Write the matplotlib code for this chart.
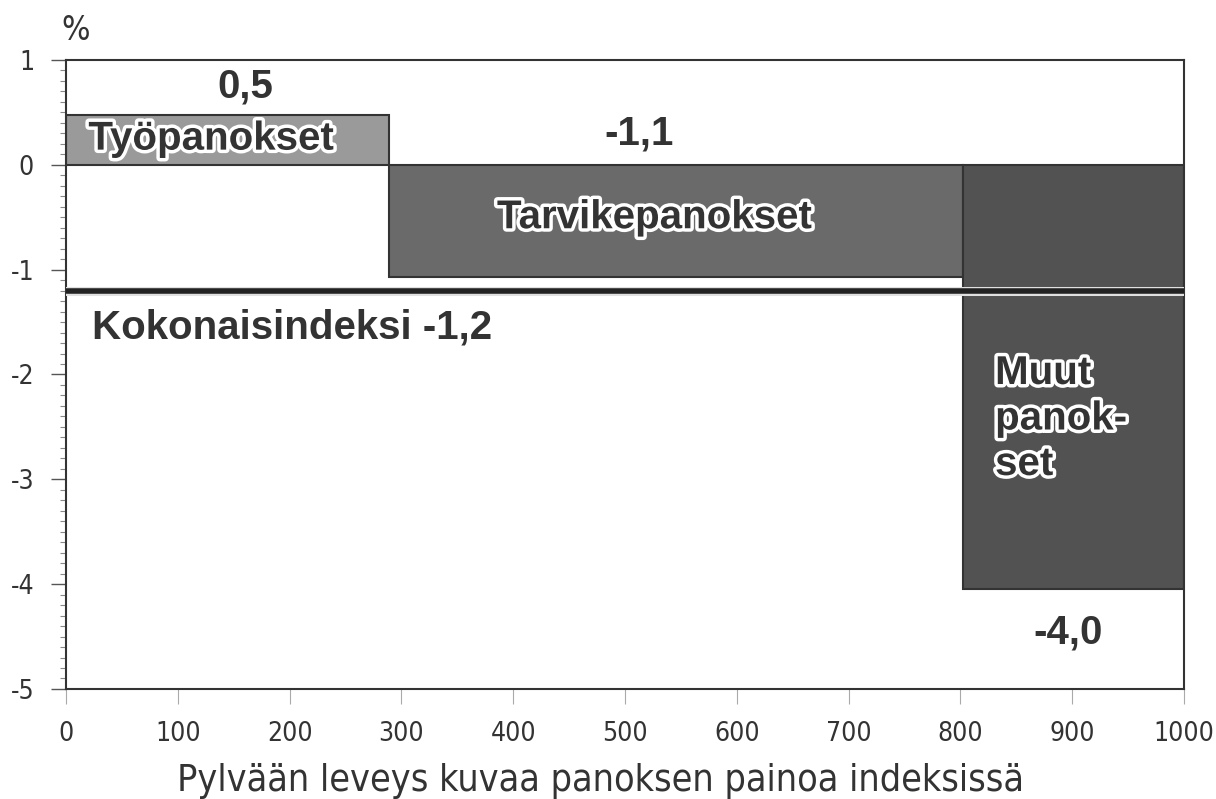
import matplotlib
matplotlib.use('Agg')
import matplotlib.pyplot as plt
import matplotlib.patheffects as pe
from matplotlib import font_manager as fm
from matplotlib.ticker import MultipleLocator

# panos groups: left edge, weight (bar width) and change in percent
groups = ['Työpanokset', 'Tarvikepanokset', 'Muut\npanok-\nset']
lefts = [0, 289, 802]
widths = [289, 513, 198]
changes = [0.48, -1.07, -4.05]
change_labels = ['0,5', '-1,1', '-4,0']
total_index = -1.2
total_label = 'Kokonaisindeksi -1,2'
bar_colors = ['#9a9a9a', '#6a6a6a', '#525252']

plt.rcParams['axes.unicode_minus'] = False

# look for a narrow sans face, otherwise fall back to Roboto light
narrow_file = None
for f in fm.fontManager.ttflist:
    base = f.fname.split('/')[-1]
    if base in ('LiberationSansNarrow-Regular.ttf', 'DejaVuSansCondensed.ttf'):
        if narrow_file is None or 'Liberation' in base:
            narrow_file = f.fname
if narrow_file:
    def nfont(size):
        return fm.FontProperties(fname=narrow_file, size=size)
else:
    def nfont(size):
        return fm.FontProperties(family=['Roboto', 'DejaVu Sans'], weight='light', size=size)

bold = ['Liberation Sans', 'DejaVu Sans']
ink = '#333333'
fs = 29

fig = plt.figure(figsize=(12.16, 7.99), dpi=100)
ax = fig.add_axes([0.0543, 0.1377, 0.9194, 0.7872])

ax.bar(lefts, changes, width=widths, align='edge', color=bar_colors,
       edgecolor='#333333', linewidth=1.5, zorder=2)

glow = [pe.withStroke(linewidth=5, foreground='white')]
ax.axhline(total_index, color='#222222', linewidth=4, zorder=3,
           path_effects=[pe.Stroke(linewidth=6.5, foreground='#e0e0e0'), pe.Normal()])

# value labels above / below bars
ax.text(160, 0.75, change_labels[0], ha='center', va='center',
        fontsize=fs, fontweight='bold', family=bold, color=ink)
ax.text(513, 0.3, change_labels[1], ha='center', va='center',
        fontsize=fs, fontweight='bold', family=bold, color=ink)
ax.text(896, -4.46, change_labels[2], ha='center', va='center',
        fontsize=fs, fontweight='bold', family=bold, color=ink)

# names inside bars
ax.text(20, 0.25, groups[0], ha='left', va='center', fontsize=fs, fontweight='bold',
        family=bold, color=ink, path_effects=glow)
ax.text(526, -0.5, groups[1], ha='center', va='center', fontsize=fs, fontweight='bold',
        family=bold, color=ink, path_effects=glow)
ax.text(831, -2.42, groups[2], ha='left', va='center', fontsize=fs, fontweight='bold',
        family=bold, color=ink, path_effects=glow, linespacing=1.25)

ax.text(23, -1.55, total_label, ha='left', va='center', fontsize=fs, fontweight='bold',
        family=bold, color=ink)

ax.set_xlim(0, 1000)
ax.set_ylim(-5, 1)
ax.xaxis.set_major_locator(MultipleLocator(100))
ax.yaxis.set_major_locator(MultipleLocator(1))
ax.yaxis.set_minor_locator(MultipleLocator(0.1))
ax.tick_params(axis='y', which='major', length=11, width=1, color='#555555', pad=12)
ax.tick_params(axis='y', which='minor', length=4, width=0.8, color='#888888')
ax.tick_params(axis='x', which='major', length=11, width=0.8, color='#aaaaaa', pad=12)
for lab in ax.get_xticklabels() + ax.get_yticklabels():
    lab.set_fontproperties(nfont(19))
    lab.set_color(ink)
for s in ax.spines.values():
    s.set_color('#333333')
    s.set_linewidth(1.5)

ax.set_xlabel('Pylvään leveys kuvaa panoksen painoa indeksissä', fontproperties=nfont(27),
              color=ink)
ax.xaxis.set_label_coords(0.478, -0.117)
fig.text(0.0625, 0.962, '%', fontproperties=nfont(24), color=ink, ha='center', va='center')

fig.savefig('out.png', dpi=100)
